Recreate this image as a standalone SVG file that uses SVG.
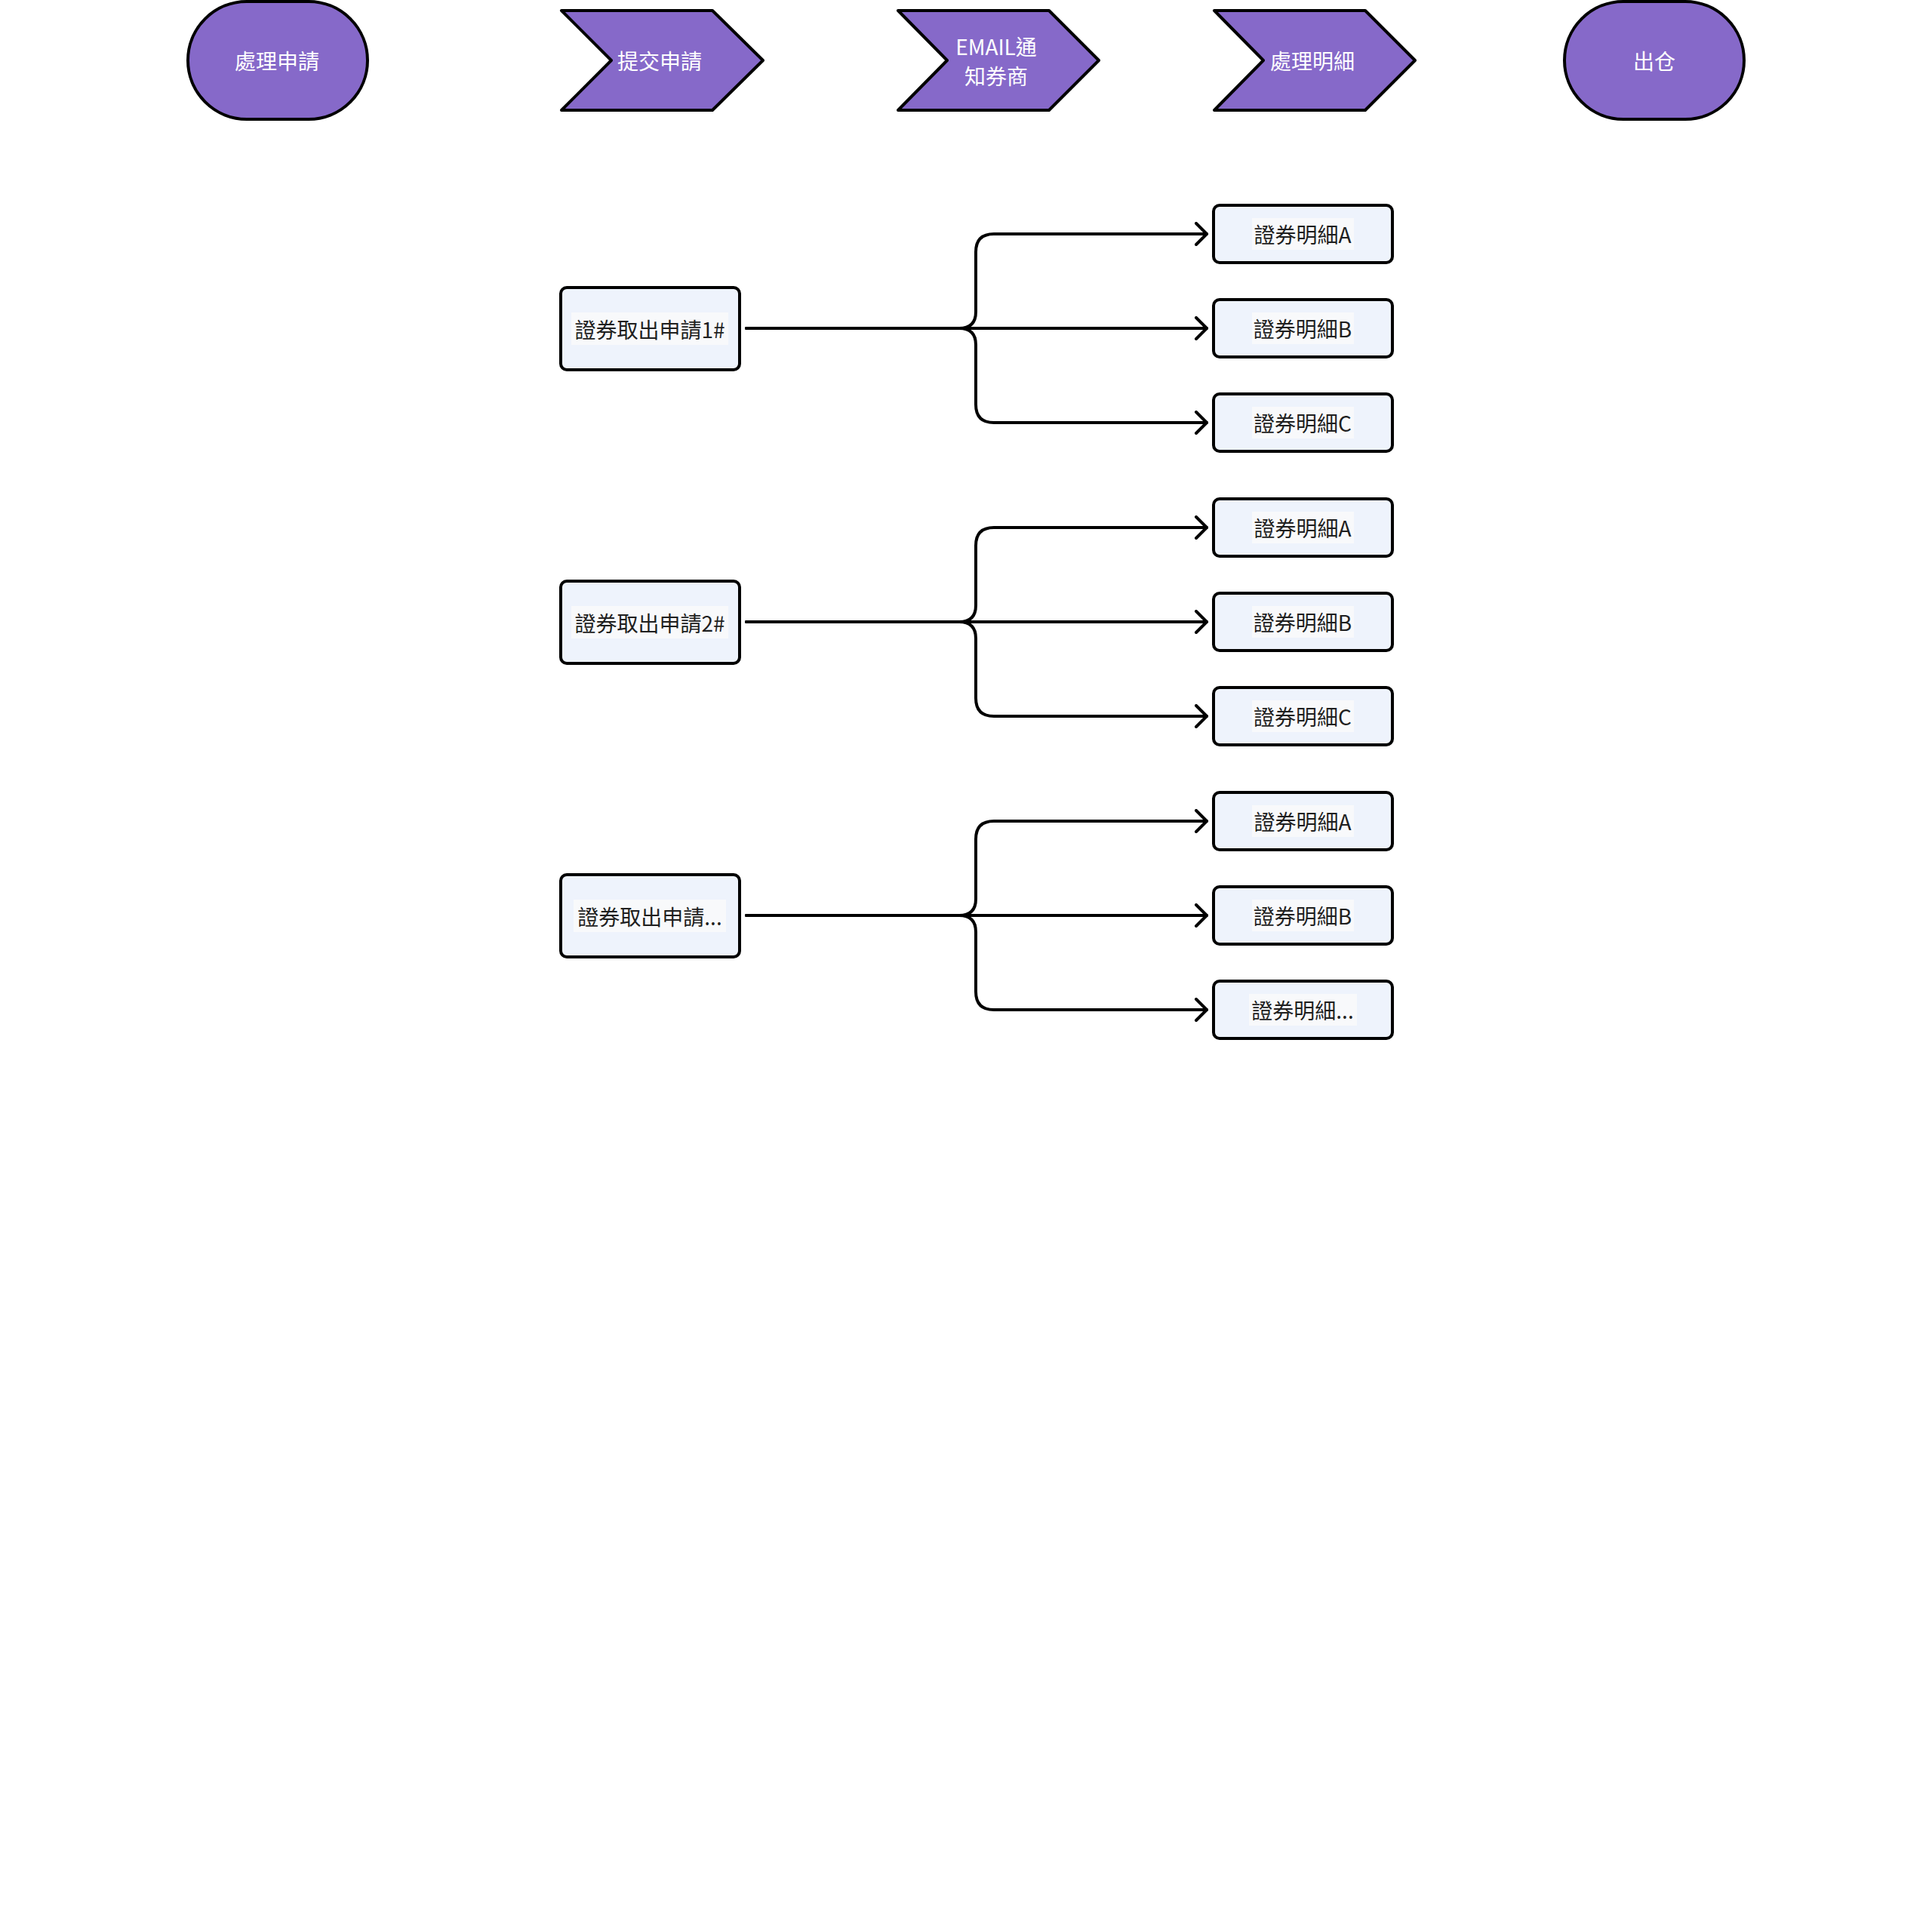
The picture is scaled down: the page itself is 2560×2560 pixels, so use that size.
<svg xmlns="http://www.w3.org/2000/svg" width="2560" height="2560" viewBox="0 0 2560 2560">
  <defs>
    <style>
      .stage { fill: #8669C9; stroke: #000; stroke-width: 4; stroke-linejoin: round; }
      .stage-text { font-family: "Noto Sans CJK TC", "Noto Sans CJK SC", sans-serif; font-size: 28px; fill: #FFFFFF; text-anchor: middle; dominant-baseline: central; }
      .box { fill: #EEF3FC; stroke: #000; stroke-width: 4; }
      .label-bg { fill: #F8F9FB; }
      .box-text { font-family: "Noto Sans CJK TC", "Noto Sans CJK SC", sans-serif; font-size: 28px; fill: #1F1F1F; text-anchor: middle; dominant-baseline: central; }
      .link { fill: none; stroke: #000; stroke-width: 4; stroke-linecap: round; stroke-linejoin: round; }
    </style>
    <marker id="arrow" viewBox="0 0 20 32" refX="17" refY="16" markerWidth="20" markerHeight="32" markerUnits="userSpaceOnUse" orient="auto">
      <path d="M3,2 L17,16 L3,30" fill="none" stroke="#000" stroke-width="4" stroke-linecap="round" stroke-linejoin="round"/>
    </marker>
  </defs>

  <rect width="2560" height="2560" fill="#FFFFFF"/>

  <!-- process stages -->
  <g id="stage-start">
    <rect class="stage" x="249" y="2" width="238" height="156" rx="78" ry="78"/>
    <text class="stage-text" x="367" y="80">處理申請</text>
  </g>
  <g id="stage-submit">
    <path class="stage" d="M744,14 H944 L1011,80 L944,146 H744 L810,80 Z"/>
    <text class="stage-text" x="874" y="80">提交申請</text>
  </g>
  <g id="stage-email">
    <path class="stage" d="M1190,14 H1390 L1456,80 L1390,146 H1190 L1255,80 Z"/>
    <text class="stage-text" x="1320" y="61">EMAIL通</text>
    <text class="stage-text" x="1320" y="100">知券商</text>
  </g>
  <g id="stage-detail">
    <path class="stage" d="M1609,14 H1809 L1875,80 L1809,146 H1609 L1674,80 Z"/>
    <text class="stage-text" x="1739" y="80">處理明細</text>
  </g>
  <g id="stage-out">
    <rect class="stage" x="2073" y="2" width="238" height="156" rx="78" ry="78"/>
    <text class="stage-text" x="2192" y="80">出仓</text>
  </g>

  <!-- requests -->
  <g id="request-1">
    <rect class="box" x="743" y="381" width="237" height="109" rx="8"/>
    <rect class="label-bg" x="757" y="414" width="208" height="43"/>
    <text class="box-text" x="861" y="436">證券取出申請1#</text>
  </g>
  <g id="request-2">
    <rect class="box" x="743" y="770" width="237" height="109" rx="8"/>
    <rect class="label-bg" x="757" y="803" width="208" height="43"/>
    <text class="box-text" x="861" y="825">證券取出申請2#</text>
  </g>
  <g id="request-3">
    <rect class="box" x="743" y="1159" width="237" height="109" rx="8"/>
    <rect class="label-bg" x="760" y="1192" width="202" height="43"/>
    <text class="box-text" x="861" y="1214">證券取出申請...</text>
  </g>

  <!-- details of request 1 -->
  <g id="detail-1a">
    <rect class="box" x="1608" y="272" width="237" height="76" rx="8"/>
    <rect class="label-bg" x="1659" y="289" width="135" height="42"/>
    <text class="box-text" x="1726" y="310">證券明細A</text>
  </g>
  <g id="detail-1b">
    <rect class="box" x="1608" y="397" width="237" height="76" rx="8"/>
    <rect class="label-bg" x="1659" y="414" width="135" height="42"/>
    <text class="box-text" x="1726" y="435">證券明細B</text>
  </g>
  <g id="detail-1c">
    <rect class="box" x="1608" y="522" width="237" height="76" rx="8"/>
    <rect class="label-bg" x="1659" y="539" width="135" height="42"/>
    <text class="box-text" x="1726" y="560">證券明細C</text>
  </g>

  <!-- details of request 2 -->
  <g id="detail-2a">
    <rect class="box" x="1608" y="661" width="237" height="76" rx="8"/>
    <rect class="label-bg" x="1659" y="678" width="135" height="42"/>
    <text class="box-text" x="1726" y="699">證券明細A</text>
  </g>
  <g id="detail-2b">
    <rect class="box" x="1608" y="786" width="237" height="76" rx="8"/>
    <rect class="label-bg" x="1659" y="803" width="135" height="42"/>
    <text class="box-text" x="1726" y="824">證券明細B</text>
  </g>
  <g id="detail-2c">
    <rect class="box" x="1608" y="911" width="237" height="76" rx="8"/>
    <rect class="label-bg" x="1659" y="928" width="135" height="42"/>
    <text class="box-text" x="1726" y="949">證券明細C</text>
  </g>

  <!-- details of request 3 -->
  <g id="detail-3a">
    <rect class="box" x="1608" y="1050" width="237" height="76" rx="8"/>
    <rect class="label-bg" x="1659" y="1067" width="135" height="42"/>
    <text class="box-text" x="1726" y="1088">證券明細A</text>
  </g>
  <g id="detail-3b">
    <rect class="box" x="1608" y="1175" width="237" height="76" rx="8"/>
    <rect class="label-bg" x="1659" y="1192" width="135" height="42"/>
    <text class="box-text" x="1726" y="1213">證券明細B</text>
  </g>
  <g id="detail-3c">
    <rect class="box" x="1608" y="1300" width="237" height="76" rx="8"/>
    <rect class="label-bg" x="1655" y="1317" width="143" height="42"/>
    <text class="box-text" x="1726" y="1338">證券明細...</text>
  </g>

  <!-- connectors: each request fans out to its three details -->
  <g id="connectors">
    <path class="link" marker-end="url(#arrow)" d="M989,435 H1271 Q1293,435 1293,413 V334 Q1293,310 1317,310 H1599"/>
    <path class="link" marker-end="url(#arrow)" d="M989,435 H1599"/>
    <path class="link" marker-end="url(#arrow)" d="M989,435 H1271 Q1293,435 1293,457 V536 Q1293,560 1317,560 H1599"/>

    <path class="link" marker-end="url(#arrow)" d="M989,824 H1271 Q1293,824 1293,802 V723 Q1293,699 1317,699 H1599"/>
    <path class="link" marker-end="url(#arrow)" d="M989,824 H1599"/>
    <path class="link" marker-end="url(#arrow)" d="M989,824 H1271 Q1293,824 1293,846 V925 Q1293,949 1317,949 H1599"/>

    <path class="link" marker-end="url(#arrow)" d="M989,1213 H1271 Q1293,1213 1293,1191 V1112 Q1293,1088 1317,1088 H1599"/>
    <path class="link" marker-end="url(#arrow)" d="M989,1213 H1599"/>
    <path class="link" marker-end="url(#arrow)" d="M989,1213 H1271 Q1293,1213 1293,1235 V1314 Q1293,1338 1317,1338 H1599"/>
  </g>
</svg>
